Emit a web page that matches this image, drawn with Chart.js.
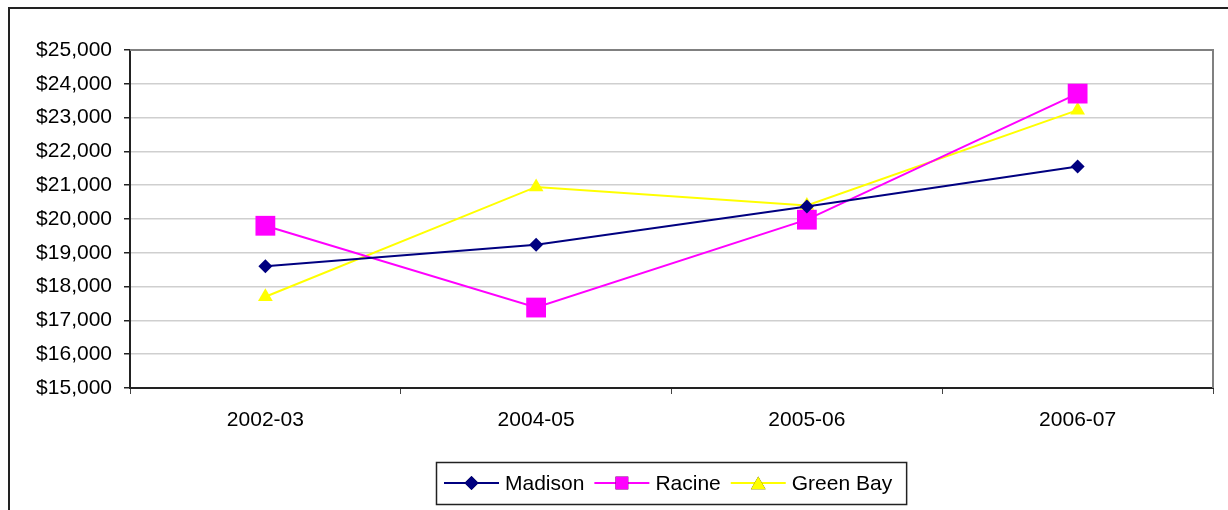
<!DOCTYPE html>
<html>
<head>
<meta charset="utf-8">
<script src="https://cdn.jsdelivr.net/npm/chart.js@4"></script>
<style>
  html, body { margin: 0; padding: 0; background: #fff; }
  #wrap { position: relative; width: 1228px; height: 510px; }
</style>
</head>
<body>
<div id="wrap"><canvas id="c" width="1228" height="510"></canvas></div>
<script>
const categories = ['2002-03', '2004-05', '2005-06', '2006-07'];
const madison = [18600, 19240, 20370, 21550];
const racine = [19800, 17380, 19980, 23710];
const greenBay = [17700, 20950, 20400, 23220];
const seriesNames = ['Madison', 'Racine', 'Green Bay'];
const yMin = 15000, yMax = 25000, yStep = 1000;

const FONT = "'Liberation Sans', Arial, sans-serif";

const framePlugin = {
  id: 'frame',
  beforeDraw(chart) {
    const ctx = chart.ctx;
    ctx.save();
    ctx.fillStyle = '#fff';
    ctx.fillRect(0, 0, chart.width, chart.height);
    ctx.strokeStyle = '#222';
    ctx.lineWidth = 2;
    ctx.beginPath();
    ctx.moveTo(9, chart.height + 5);
    ctx.lineTo(9, 8);
    ctx.lineTo(chart.width + 5, 8);
    ctx.stroke();
    ctx.restore();
  },
  afterDraw(chart) {
    const ctx = chart.ctx;
    const a = chart.chartArea;
    ctx.save();
    ctx.strokeStyle = '#808080';
    ctx.lineWidth = 2;
    ctx.beginPath();
    ctx.moveTo(a.left, a.top);
    ctx.lineTo(a.right, a.top);
    ctx.lineTo(a.right, a.bottom);
    ctx.stroke();
    // legend
    ctx.font = '21px ' + FONT;
    ctx.textBaseline = 'middle';
    ctx.fillStyle = '#000';
    const lineLen = 55, gapLT = 6, gapItem = 10, padL = 8, padR = 14;
    const widths = seriesNames.map(n => ctx.measureText(n).width);
    let total = padL + padR;
    widths.forEach((w, i) => { total += lineLen + gapLT + w + (i < widths.length - 1 ? gapItem : 0); });
    const cx = (a.left + a.right) / 2;
    const bx = Math.round(cx - total / 2), by = 462, bh = 42;
    ctx.strokeStyle = '#222';
    ctx.lineWidth = 1.5;
    ctx.strokeRect(bx + 0.5, by + 0.5, total, bh);
    let x = bx + padL;
    const yMid = by + bh / 2;
    chart.data.datasets.forEach((ds, i) => {
      ctx.strokeStyle = ds.borderColor;
      ctx.lineWidth = 2;
      ctx.beginPath();
      ctx.moveTo(x, yMid);
      ctx.lineTo(x + lineLen, yMid);
      ctx.stroke();
      let r = ds.pointRadius;
      if (ds.pointStyle === 'rect') r = 9;
      Chart.helpers.drawPoint(ctx, {
        pointStyle: ds.pointStyle, radius: r, borderWidth: 0, rotation: 0
      }, x + lineLen / 2, yMid + (ds.pointStyle === 'triangle' ? 2 : 0));
      ctx.fillStyle = ds.backgroundColor;
      ctx.fill();
      ctx.fillStyle = '#000';
      ctx.fillText(seriesNames[i], x + lineLen + gapLT, yMid + 1);
      x += lineLen + gapLT + widths[i] + gapItem;
    });
    ctx.restore();
  }
};

const mk = (label, data, color, style, r) => ({
  label, data,
  borderColor: color,
  backgroundColor: color,
  pointBackgroundColor: color,
  pointBorderColor: color,
  pointBorderWidth: 0,
  borderWidth: 2,
  pointStyle: style,
  pointRadius: r,
  pointHoverRadius: r,
  tension: 0,
  fill: false
});

new Chart(document.getElementById('c'), {
  type: 'line',
  data: {
    labels: categories,
    datasets: [
      mk(seriesNames[0], madison, '#000080', 'rectRot', 7),
      mk(seriesNames[1], racine, '#FF00FF', 'rect', 14),
      mk(seriesNames[2], greenBay, '#FFFF00', 'triangle', 8.5)
    ]
  },
  options: {
    responsive: false,
    animation: false,
    devicePixelRatio: 1,
    layout: { padding: { top: 50, right: 15, left: 0, bottom: 72 } },
    plugins: { legend: { display: false }, tooltip: { enabled: false } },
    scales: {
      x: {
        offset: true,
        afterFit(s) { s.height = 50; },
        grid: { offset: true, drawOnChartArea: false, drawTicks: true, tickLength: 6, color: '#444', lineWidth: 1 },
        border: { color: '#222', width: 2 },
        ticks: { color: '#000', font: { family: FONT, size: 21 }, padding: 14, maxRotation: 0 }
      },
      y: {
        min: yMin, max: yMax,
        afterFit(s) { s.width = 130; },
        grid: { color: '#cfcfcf', lineWidth: 1.5, drawTicks: true, tickLength: 6, tickColor: '#222' },
        border: { color: '#222', width: 2 },
        ticks: {
          stepSize: yStep, color: '#000', font: { family: FONT, size: 21 }, padding: 12,
          callback: v => '$' + Number(v).toLocaleString('en-US')
        }
      }
    }
  },
  plugins: [framePlugin]
});
</script>
</body>
</html>
